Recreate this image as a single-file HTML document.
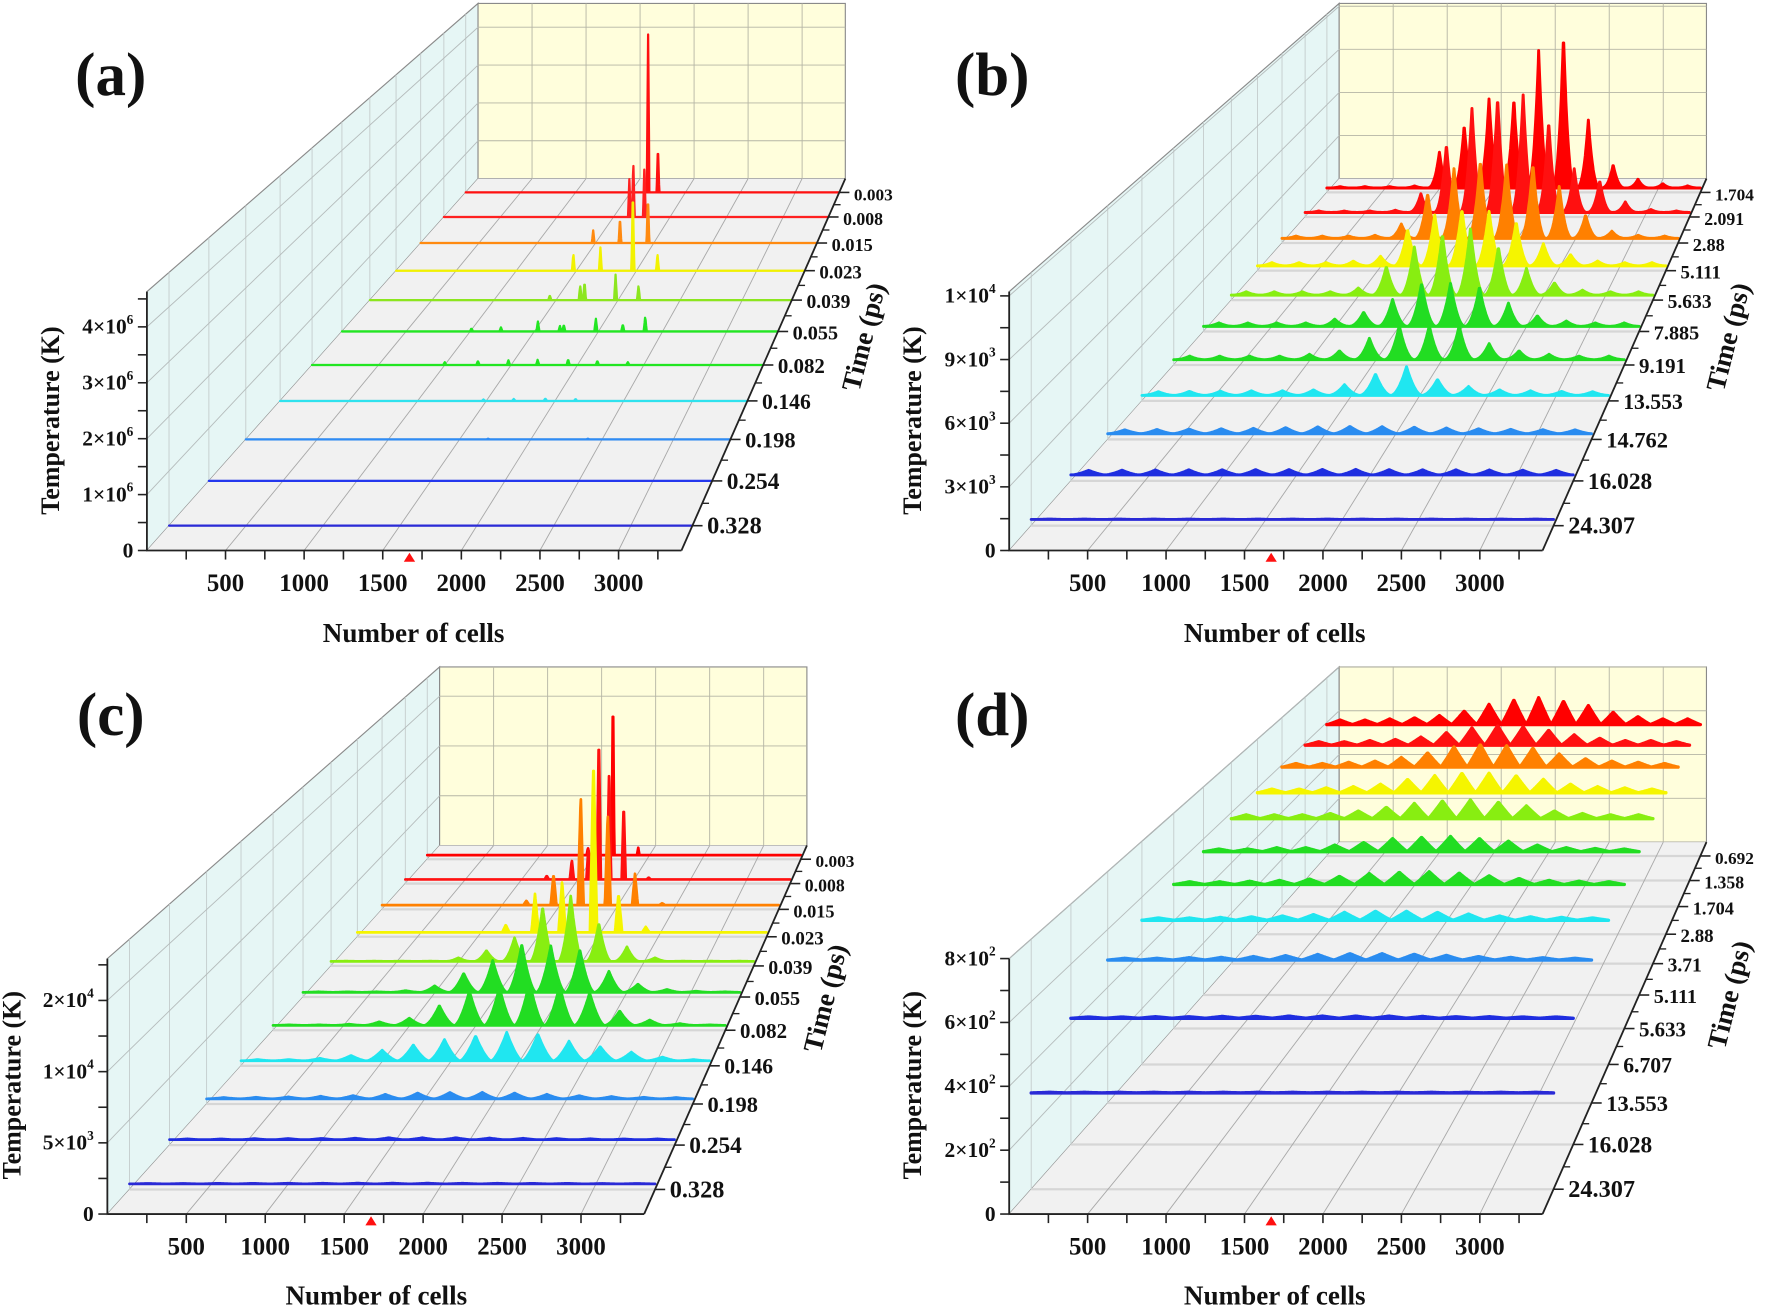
<!DOCTYPE html>
<html><head><meta charset="utf-8"><title>Temperature waterfall charts</title>
<style>
html,body{margin:0;padding:0;background:#fff;}
svg{display:block;}
text{font-family:"Liberation Serif",serif;font-weight:bold;fill:#111;}
</style></head>
<body>
<svg id="fig" xmlns="http://www.w3.org/2000/svg" width="1772" height="1309" viewBox="0 0 1568 1158" preserveAspectRatio="none"></svg>
<script>
// ---------- shared ----------
const GRID = [120,346,572,798,1024,1250,1476,1702,1928,2154,2380,2606,2832,3058,3284];
const XMAX = 3400;
const xTickVals = [500,1000,1500,2000,2500,3000];
const markerCell = 1670;
// ---------- panel (a) ----------
const aTimes = ['0.328','0.254','0.198','0.146','0.082','0.055','0.039','0.023','0.015','0.008','0.003'];
const aBase = [0,0,0,0,0,0,0,0,0,0,0];
const aPos = [[],[],[1700,2400],[1480,1700,1930,2150],[1000,1250,1480,1700,1930,2150,2380],
  [1010,1240,1528,1700,1730,1980,2190,2365],[1450,1695,1730,1980,2165],[1475,1700,1970,2175],
  [1480,1710,1950],[1640,1675,1773],[1660,1750]];
const aAmp = [[],[],[15000,15000],[30000,40000,50000,40000],[60000,90000,100000,110000,120000,90000,60000],
  [70000,90000,220000,120000,150000,280000,160000,330000],[110000,340000,420000,580000,340000],
  [400000,550000,1930000,400000],[310000,620000,1130000],[950000,1400000,1300000],[4100000,1200000]];
const aYTicks = [0,1e6,2e6,3e6,4e6];
const aYLabels = ['0','1×10^6','2×10^6','3×10^6','4×10^6'];
// ---------- panel (b) ----------
const bTimes = ['24.307','16.028','14.762','13.553','9.191','7.885','5.633','5.111','2.88','2.091','1.704'];
const bBase = [300,300,300,300,300,300,300,300,300,300,300];
const bAmp = [
 [20,20,20,20,20,20,20,20,20,20,20,20,20,20,20],
 [230,240,250,260,260,270,270,280,280,270,260,260,250,240,230],
 [200,220,240,260,280,320,360,380,370,340,300,260,230,210,200],
 [200,220,230,250,250,300,580,1160,1550,870,480,300,250,220,200],
 [200,200,200,200,300,500,1200,1900,1900,1900,900,500,300,200,200],
 [200,200,200,200,420,830,1560,2500,2500,2290,1350,620,310,200,200],
 [200,200,200,200,430,1720,2900,3650,3980,2900,1610,750,300,200,200],
 [200,200,200,300,600,2270,3170,3500,3390,2720,1380,710,300,200,200],
 [150,150,150,200,920,2880,4480,4950,4720,4720,3340,1500,460,200,150],
 [100,100,100,150,1240,4500,6900,7600,7800,6000,2900,2100,700,200,100],
 [100,100,100,150,2450,4300,6100,6100,9400,10400,4650,1600,600,300,150]];
const bYTicks = [0,3000,6000,9000,12000];
const bYLabels = ['0','3×10^3','6×10^3','9×10^3','1×10^4'];
// ---------- panel (c) ----------
const cTimes = ['0.328','0.254','0.198','0.146','0.082','0.055','0.039','0.023','0.015','0.008','0.003'];
const cBase = [400,400,400,400,400,400,400,400,400,400,400];
const cPos = [GRID,GRID,GRID,GRID,GRID,GRID,GRID,
  [1233,1476,1701,1962,2170,2396],[1237,1470,1703,1935,2168,2401],
  [1250,1471,1618,1710,1801,1930,2150],[1463,1690,1920]];
const cAmp = [
 [30,30,40,40,50,50,60,60,60,50,50,40,40,30,30],
 [60,60,80,90,100,120,150,150,150,130,110,90,70,60,60],
 [100,120,150,200,250,350,450,500,500,450,350,250,180,120,100],
 [100,100,200,430,850,1280,1700,2000,2280,2140,1570,1140,700,300,100],
 [50,50,100,300,600,1650,2850,3150,3600,3300,2700,1200,450,150,50],
 [50,50,50,150,560,1640,2730,4120,3970,3660,1800,710,250,100,50],
 [30,30,30,30,320,960,2080,4800,5760,3360,1280,320,30,30,30],
 [670,3500,4680,15700,3500,500],[410,2920,10300,8600,2920,170],
 [350,1870,3100,14000,10500,7300,180],[730,16400,730]];
const cYTicks = [0,5000,10000,15000];
const cYLabels = ['0','5×10^3','1×10^4','2×10^4'];
// ---------- panel (d) ----------
const dTimes = ['24.307','16.028','13.553','6.707','5.633','5.111','3.71','2.88','1.704','1.358','0.692'];
const dBase = [308,420,494,517,535,551,576,580,590,590,590];
const dAmp = [
 [2,2,2,2,2,2,2,2,2,2,2,2,2,2,2],
 [4,4,5,5,6,6,7,7,7,7,6,5,5,4,4],
 [6,6,8,9,12,15,19,22,22,20,16,12,9,8,6],
 [8,8,10,12,15,20,28,32,32,28,22,15,12,10,8],
 [10,10,12,15,20,30,40,45,47,42,32,22,15,12,10],
 [10,10,15,15,25,35,50,55,58,50,40,25,15,12,10],
 [15,15,15,20,30,45,60,70,74,65,50,30,20,15,15],
 [15,15,20,25,35,55,70,80,80,70,55,35,25,20,15],
 [15,15,20,25,40,60,85,95,90,80,55,35,25,20,15],
 [15,15,20,25,35,55,75,85,80,65,45,30,20,20,15],
 [20,20,25,30,40,60,90,110,120,105,85,55,35,25,25]];
const dYTicks = [0,200,400,600,800];
const dYLabels = ['0','2×10^2','4×10^2','6×10^2','8×10^2'];

const COLS_A = ['#2b2bd8','#2438ee','#2f8cf5','#2fe2ee','#22e622','#22e622','#8ce61e','#f2f200','#ff8a10','#ff2020','#ff1010'];
const COLS_B = ['#2a2ad6','#1f2ee0','#2a8cf0','#20e6f0','#22dd22','#22dd22','#88ee11','#f5f500','#ff8000','#ff1010','#ff0000'];

const NS = 'http://www.w3.org/2000/svg';
const svg = document.getElementById('fig');
function mk(tag, attrs, parent){
  const e = document.createElementNS(NS, tag);
  for (const k in attrs) e.setAttribute(k, attrs[k]);
  parent.appendChild(e);
  return e;
}
function supText(parent, x, y, label, size, anchor){
  const t = mk('text', {x:x, y:y, 'font-size':size, 'text-anchor':anchor}, parent);
  const parts = label.split('^');
  t.appendChild(document.createTextNode(parts[0]));
  if (parts.length > 1){
    const s = mk('tspan', {dy:-size*0.45, 'font-size':size*0.62}, t);
    s.textContent = parts[1];
  }
  return t;
}

function drawPanel(P){
  const g = mk('g', {}, svg);
  
  
  const n = P.times.length;
  const fr = i => { const d = 0.047 + 0.09*i; return d*1.45/(1 - d + d*1.45); };
  const geo = f => ({lx:P.FL[0]+f*(P.BL[0]-P.FL[0]), rx:P.FR[0]+f*(P.BR[0]-P.FR[0]),
                     y0:P.FL[1]+f*(P.BL[1]-P.FL[1]), h:P.fh+f*(P.bh-P.fh)});
  const proj = (x,f,z) => { const G = geo(f); return [G.lx + x/XMAX*(G.rx-G.lx), G.y0 - z/P.zmax*G.h]; };
  const pt = p => p[0].toFixed(1)+','+p[1].toFixed(1);
  const line = (a,b,st,w,parent) => mk('line',{x1:a[0],y1:a[1],x2:b[0],y2:b[1],stroke:st,'stroke-width':w},parent||g);

  const lw = mk('polygon', {points:[pt(proj(0,0,0)),pt(proj(0,1,0)),pt(proj(0,1,P.zmax)),pt(proj(0,0,P.zmax))].join(' '), fill:'#e6f6f5', stroke:'#8a8a8a','stroke-width':1}, g);
  
  
  const bw = mk('polygon', {points:[pt(proj(0,1,0)),pt(proj(XMAX,1,0)),pt(proj(XMAX,1,P.zmax)),pt(proj(0,1,P.zmax))].join(' '), fill:'#fffedc', stroke:'#8a8a8a','stroke-width':1}, g);
  
  
  const fl = mk('polygon', {points:[pt(proj(0,0,0)),pt(proj(XMAX,0,0)),pt(proj(XMAX,1,0)),pt(proj(0,1,0))].join(' '), fill:'#f1f1f1', stroke:'none'}, g);
  
  

  const grid = mk('g', {}, g);
  
  
  for (let i=0;i<n;i++){
    const f = fr(i);
    line(proj(0,f,0), proj(XMAX,f,0), '#d6d6d6', 2, grid);
    line(proj(0,f,0), proj(0,f,P.zmax), '#c4cccc', 0.8, grid);
  }
  P.yTicks.forEach(v => { if (v>0){
    line(proj(0,0,v), proj(0,1,v), '#b5bcbc', 0.8, grid);
    line(proj(0,1,v), proj(XMAX,1,v), '#b5b5a5', 0.8, grid);
  }});
  xTickVals.forEach(v => {
    line(proj(v,0,0), proj(v,1,0), '#a8a8a8', 0.8, grid);
    line(proj(v,1,0), proj(v,1,P.zmax), '#b5b5a5', 0.8, grid);
  });

  for (let i=n-1;i>=0;i--){
    const f = fr(i);
    const pos = P.pos[i], amp = P.amp[i], w = P.w[i], p = P.p[i], base = P.base[i];
    let d = 'M'+pt(proj(0,f,base));
    for (let x=0; x<=XMAX; x+=4){
      let z = base;
      for (let k=0;k<pos.length;k++){
        const u = Math.abs(x-pos[k])/w;
        if (u<1) z += amp[k]*Math.pow(1-u,p);
      }
      d += ' L'+pt(proj(x,f,z));
    }
    d += ' L'+pt(proj(XMAX,f,base))+' Z';
    const path = mk('path', {d:d, fill:P.cols[i], stroke:P.cols[i], 'stroke-width':P.sw, 'stroke-linejoin':'round'}, g);
    
    
  }

  const ax = mk('g', {}, g);
  
  
  line(proj(0,0,0), proj(XMAX,0,0), '#222', 1.6, ax);
  line(proj(0,0,0), proj(0,0,P.zmax), '#222', 1.6, ax);
  line(proj(XMAX,0,0), proj(XMAX,1,0), '#222', 1.6, ax);
  for (let v=250; v<XMAX; v+=250){
    const a = proj(v,0,0);
    line(a, [a[0], a[1]+8], '#222', 1.4, ax);
  }
  xTickVals.forEach(v => {
    const a = proj(v,0,0);
    const t = mk('text', {x:a[0], y:a[1]+36, 'font-size':22, 'text-anchor':'middle'}, ax);
    t.textContent = v;
    
    
  });
  const step = P.yTicks[1]-P.yTicks[0];
  for (let v=0; v<=P.zmax+1; v+=step/2){
    const a = proj(0,0,v);
    line(a, [a[0]-8, a[1]], '#222', 1.4, ax);
  }
  P.yTicks.forEach((v,j) => {
    const a = proj(0,0,v);
    const t = supText(ax, a[0]-12, a[1]+6, P.yLabels[j], 19, 'end');
    
    
  });
  for (let i=0;i<n;i++){
    const f = fr(i), G = geo(f);
    line([G.rx, G.y0], [G.rx+9, G.y0], '#222', 1.4, ax);
    if (i<n-1){
      const f2 = (fr(i)+fr(i+1))/2, G2 = geo(f2);
      line([G2.rx, G2.y0], [G2.rx+6, G2.y0], '#222', 1.2, ax);
    }
    const t = mk('text', {x:G.rx+13, y:G.y0+7, 'font-size':(22 - f*7).toFixed(1)}, ax);
    t.textContent = P.times[i];
    
    
  }
  const m = proj(markerCell,0,0);
  const tri = mk('polygon', {points:(m[0]-5)+','+(m[1]+10)+' '+(m[0]+5)+','+(m[1]+10)+' '+m[0]+','+(m[1]+2), fill:'#ff1010'}, g);
  
  

  const xt = mk('text', {x:P.xTitle[0], y:P.xTitle[1], 'font-size':24, 'text-anchor':'middle'}, g);
  xt.textContent = 'Number of cells';
  
  
  const yt = mk('text', {x:0, y:0, 'font-size':23, 'text-anchor':'middle', transform:'translate('+P.yTitle[0]+','+P.yTitle[1]+') rotate(-90)'}, g);
  yt.textContent = 'Temperature (K)';
  
  
  const tt = mk('text', {x:0, y:0, 'font-size':24, 'text-anchor':'middle', transform:'translate('+P.tTitle[0]+','+P.tTitle[1]+') rotate(-76)'}, g);
  tt.textContent = 'Time (ps)';
  
  
  const lt = mk('text', {x:P.letter[0], y:P.letter[1], 'font-size':54, 'text-anchor':'middle'}, g);
  lt.textContent = P.label;
  
  
}

const W11 = v => [v,v,v,v,v,v,v,v,v,v,v];
drawPanel({name:'panel-a', label:'(a)', FL:[130,487], FR:[603,487], BL:[423,158], BR:[748,158], fh:229, bh:155,
  zmax:4.63e6, yTicks:aYTicks, yLabels:aYLabels, times:aTimes, base:aBase, pos:aPos, amp:aAmp,
  w:W11(12), p:W11(1), cols:COLS_A, sw:2, xTitle:[366,568], yTitle:[52,372], tTitle:[772,300], letter:[98,84]});
drawPanel({name:'panel-b', label:'(b)', FL:[893,487], FR:[1365,487], BL:[1185,158], BR:[1510,158], fh:229, bh:155,
  zmax:12200, yTicks:bYTicks, yLabels:bYLabels, times:bTimes, base:bBase, pos:W11(GRID), amp:bAmp,
  w:W11(113), p:[1.5,1.5,1.5,1.8,2,2,2,2,2.2,2.4,2.6], cols:COLS_B, sw:2.6, xTitle:[1128,568], yTitle:[815,372], tTitle:[1537,300], letter:[878,84]});
drawPanel({name:'panel-c', label:'(c)', FL:[95,1074], FR:[570,1074], BL:[389,748], BR:[714,748], fh:226, bh:158,
  zmax:17940, yTicks:cYTicks, yLabels:cYLabels, times:cTimes, base:cBase, pos:cPos, amp:cAmp,
  w:[113,113,113,113,113,113,100,30,25,18,12], p:[1.5,1.5,1.5,1.5,1.6,1.7,1.8,1,1,1,1], cols:COLS_B, sw:2.4, xTitle:[333,1154], yTitle:[18,960], tTitle:[738,885], letter:[98,650]});
drawPanel({name:'panel-d', label:'(d)', FL:[893,1074], FR:[1365,1074], BL:[1185,745], BR:[1510,745], fh:226, bh:155,
  zmax:800, yTicks:dYTicks, yLabels:dYLabels, times:dTimes, base:dBase, pos:W11(GRID), amp:dAmp,
  w:W11(113), p:W11(1.1), cols:COLS_B, sw:3, xTitle:[1128,1154], yTitle:[815,960], tTitle:[1538,882], letter:[878,650]});
</script>
</body></html>
